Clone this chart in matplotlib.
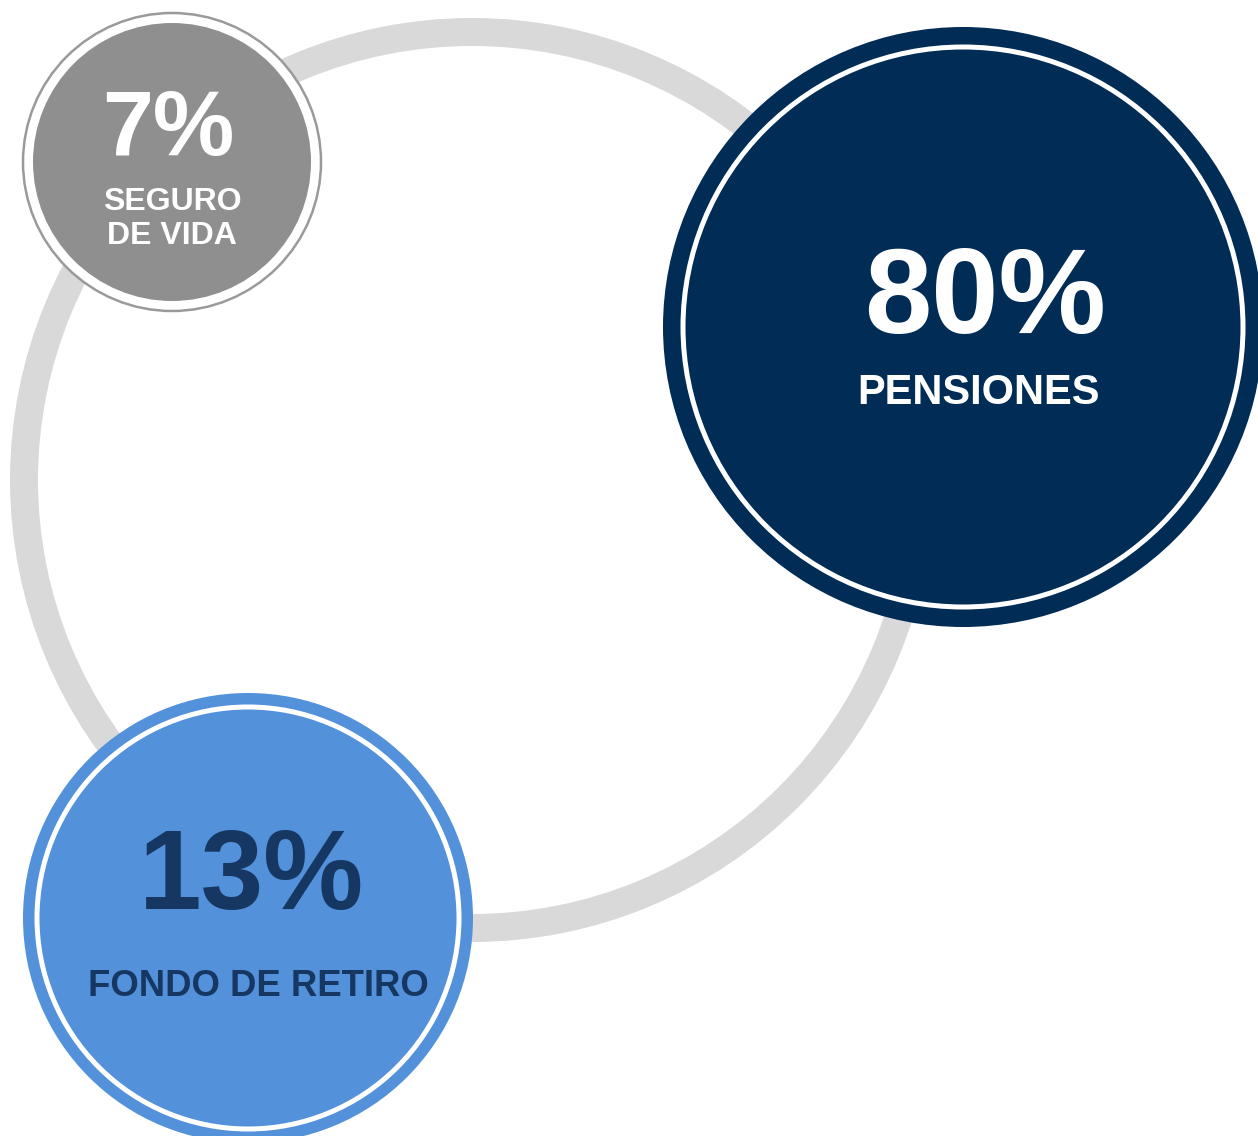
import matplotlib.pyplot as plt
from matplotlib.patches import Circle

plt.rcParams['font.family'] = ['Liberation Sans', 'DejaVu Sans']

# datos
labels = ["PENSIONES", "FONDO DE RETIRO", "SEGURO\nDE VIDA"]
values = [80, 13, 7]

# layout (pixels)
centers = [(963, 327), (248, 918), (172, 162)]
radii = [300, 225, 149]
fills = ["#002c55", "#5391db", "#8f8f8f"]
text_colors = ["white", "#163762", "white"]
pct_sizes = [87, 81, 66]
lbl_sizes = [30, 26.3, 23]
pct_x = [985, 251, 168]
pct_dy = [-25, -38, -31]
lbl_dy = [66, 68, 57]
lbl_dx = [15, 10, 0]

W, H = 1258, 1136
fig = plt.figure(figsize=(W / 100, H / 100), dpi=100)
ax = fig.add_axes([0, 0, 1, 1])
ax.set_xlim(0, W)
ax.set_ylim(H, 0)
ax.axis('off')

# big gray ring behind
ax.add_patch(Circle((472, 480), 448, fill=False, ec="#d9d9d9", lw=28 * 0.72, zorder=1))

for i in range(len(values)):
    cx, cy = centers[i]
    r = radii[i]
    if i == 2:
        # thin outline + white gap + gray fill
        ax.add_patch(Circle((cx, cy), r, fc="white", ec="#9a9a9a", lw=2.5 * 0.72, zorder=2))
        ax.add_patch(Circle((cx, cy), r - 10, fc=fills[i], ec="none", zorder=3))
    else:
        ax.add_patch(Circle((cx, cy), r, fc=fills[i], ec="none", zorder=2))
        gap = 20 if i == 0 else 14
        ax.add_patch(Circle((cx, cy), r - gap, fill=False, ec="white", lw=5 * 0.72, zorder=3))

    ax.text(pct_x[i], cy + pct_dy[i], f"{values[i]}%", color=text_colors[i],
            fontsize=pct_sizes[i], fontweight='bold', ha='center', va='center', zorder=4)
    ax.text(cx + lbl_dx[i], cy + lbl_dy[i], labels[i], color=text_colors[i],
            fontsize=lbl_sizes[i], fontweight='bold', ha='center', va='center',
            linespacing=1.2, zorder=4)

fig.savefig("out.png", dpi=100, facecolor="white")
